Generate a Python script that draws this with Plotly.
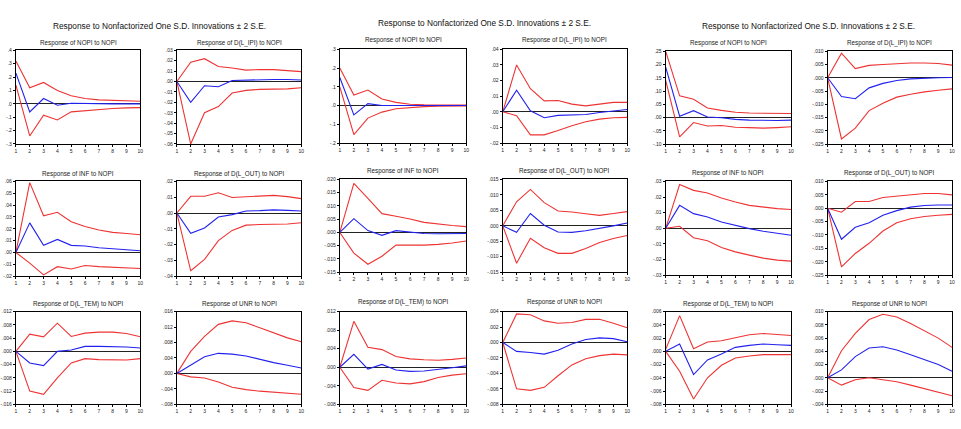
import plotly.graph_objects as go

W, H = 961, 429
periods = list(range(1, 11))

block_title = "Response to Nonfactorized One S.D. Innovations \u00b1 2 S.E."
panel_titles = ["Response of NOPI to NOPI", "Response of D(L_IPI) to NOPI",
                "Response of INF to NOPI", "Response of D(L_OUT) to NOPI",
                "Response of D(L_TEM) to NOPI", "Response of UNR to NOPI"]

# ---------------- Block 1 ----------------
b1_nopi_resp = [0.23, -0.06, 0.04, -0.01, 0.005, 0.002, 0.001, 0.0, 0.0, 0.0]
b1_nopi_up = [0.32, 0.12, 0.16, 0.10, 0.06, 0.04, 0.03, 0.025, 0.022, 0.02]
b1_nopi_lo = [0.14, -0.24, -0.085, -0.12, -0.06, -0.05, -0.04, -0.035, -0.03, -0.028]

b1_ipi_resp = [0.0, -0.02, -0.004, -0.005, 0.001, 0.0015, 0.002, 0.002, 0.002, 0.0015]
b1_ipi_up = [0.0, 0.0185, 0.022, 0.0145, 0.013, 0.011, 0.0115, 0.0115, 0.0105, 0.0095]
b1_ipi_lo = [0.0, -0.06, -0.03, -0.024, -0.011, -0.0085, -0.0075, -0.0073, -0.007, -0.006]

b1_inf_resp = [0.0, 0.025, 0.006, 0.011, 0.006, 0.0055, 0.004, 0.003, 0.002, 0.0015]
b1_inf_up = [0.0, 0.059, 0.031, 0.034, 0.026, 0.022, 0.019, 0.017, 0.016, 0.015]
b1_inf_lo = [0.0, -0.009, -0.019, -0.012, -0.014, -0.011, -0.012, -0.0125, -0.0135, -0.0135]

b1_out_resp = [0.0, -0.0128, -0.0095, -0.0025, -0.001, 0.0013, 0.0015, 0.002, 0.0017, 0.0013]
b1_out_up = [0.0, 0.0106, 0.0106, 0.0128, 0.0098, 0.0102, 0.0106, 0.0112, 0.0104, 0.0091]
b1_out_lo = [0.0, -0.0366, -0.0294, -0.0175, -0.011, -0.0077, -0.0073, -0.0072, -0.007, -0.0062]

b1_tem_resp = [0.0, -0.0035, -0.0043, 0.0, 0.0004, 0.0015, 0.0015, 0.0015, 0.0013, 0.001]
b1_tem_up = [0.0, 0.0052, 0.0044, 0.0085, 0.0045, 0.0055, 0.0058, 0.0058, 0.0054, 0.0044]
b1_tem_lo = [0.0, -0.012, -0.013, -0.008, -0.0035, -0.0022, -0.0025, -0.0026, -0.0026, -0.0022]

b1_unr_resp = [0.0, 0.0022, 0.0043, 0.0052, 0.005, 0.0045, 0.0036, 0.0028, 0.0021, 0.0014]
b1_unr_up = [0.0, 0.0057, 0.0096, 0.0127, 0.0136, 0.0131, 0.0118, 0.0104, 0.0092, 0.0082]
b1_unr_lo = [0.0, -0.0009, -0.0012, -0.0022, -0.0036, -0.0042, -0.0046, -0.0048, -0.0051, -0.0054]

# ---------------- Block 2 ----------------
b2_nopi_resp = [0.15, -0.05, 0.01, 0.0, 0.0, 0.0, 0.0, 0.0, 0.0, 0.0]
b2_nopi_up = [0.20, 0.056, 0.083, 0.035, 0.017, 0.007, 0.004, 0.003, 0.002, 0.002]
b2_nopi_lo = [0.10, -0.155, -0.067, -0.035, -0.017, -0.01, -0.006, -0.004, -0.003, -0.002]

b2_ipi_resp = [0.0, 0.0138, 0.0006, -0.0038, -0.0023, -0.002, -0.0017, -0.0005, 0.0006, 0.0015]
b2_ipi_up = [0.0, 0.03, 0.0148, 0.007, 0.0072, 0.0049, 0.0038, 0.0049, 0.006, 0.006]
b2_ipi_lo = [0.0, -0.0025, -0.0148, -0.0148, -0.012, -0.0089, -0.0064, -0.0047, -0.0038, -0.0036]

b2_inf_resp = [0.0, 0.0052, 0.0007, -0.0011, 0.0007, 0.0001, -0.0004, -0.0005, -0.0005, -0.0004]
b2_inf_up = [0.0, 0.0185, 0.0129, 0.0071, 0.0061, 0.0051, 0.0038, 0.0031, 0.0026, 0.0022]
b2_inf_lo = [0.0, -0.0078, -0.012, -0.009, -0.0048, -0.0048, -0.0048, -0.0045, -0.004, -0.0032]

b2_out_resp = [0.0, -0.0021, 0.004, 0.0002, -0.002, -0.0021, -0.0016, -0.0009, 0.0, 0.0009]
b2_out_up = [0.0, 0.0078, 0.0118, 0.0075, 0.0048, 0.0045, 0.0039, 0.0034, 0.004, 0.0046]
b2_out_lo = [0.0, -0.0121, -0.004, -0.0071, -0.0089, -0.0089, -0.0073, -0.0054, -0.0041, -0.0031]

b2_tem_resp = [0.0, 0.0028, -0.0004, 0.0006, -0.0006, -0.0009, -0.0008, -0.0005, -0.0001, 0.0003]
b2_tem_up = [0.0, 0.0099, 0.0043, 0.0038, 0.0023, 0.0018, 0.0016, 0.0015, 0.0017, 0.002]
b2_tem_lo = [0.0, -0.0044, -0.005, -0.0028, -0.0034, -0.0036, -0.0031, -0.0022, -0.0017, -0.0014]

b2_unr_resp = [0.0, -0.00115, -0.0013, -0.0015, -0.001, -0.0002, 0.0004, 0.0006, 0.0005, 0.0001]
b2_unr_up = [0.0, 0.0037, 0.0036, 0.0028, 0.0025, 0.0026, 0.003, 0.003, 0.0025, 0.0019]
b2_unr_lo = [0.0, -0.006, -0.0062, -0.0058, -0.0043, -0.0029, -0.0021, -0.0017, -0.0015, -0.0016]

# ---------------- Block 3 ----------------
b3_nopi_resp = [0.19, 0.005, 0.026, 0.002, -0.001, -0.007, -0.01, -0.011, -0.011, -0.01]
b3_nopi_up = [0.25, 0.082, 0.069, 0.036, 0.027, 0.02, 0.017, 0.016, 0.015, 0.015]
b3_nopi_lo = [0.14, -0.073, -0.019, -0.032, -0.03, -0.037, -0.038, -0.04, -0.038, -0.035]

b3_ipi_resp = [0.0, -0.0071, -0.0079, -0.0038, -0.0021, -0.001, -0.0004, -0.0001, 0.0, 0.0001]
b3_ipi_up = [0.0, 0.0093, 0.0035, 0.0047, 0.005, 0.0054, 0.0056, 0.0056, 0.0054, 0.0048]
b3_ipi_lo = [0.0, -0.0231, -0.019, -0.0124, -0.0096, -0.0073, -0.0062, -0.0053, -0.0047, -0.0042]

b3_inf_resp = [0.0, 0.0147, 0.0094, 0.0072, 0.004, 0.0017, -0.0002, -0.0019, -0.0034, -0.0045]
b3_inf_up = [0.0, 0.028, 0.0243, 0.0226, 0.0194, 0.0168, 0.0147, 0.0136, 0.0126, 0.012]
b3_inf_lo = [0.0, 0.0013, -0.006, -0.008, -0.0123, -0.0151, -0.0172, -0.0191, -0.0204, -0.021]

b3_out_resp = [0.0, -0.0116, -0.0071, -0.0054, -0.0026, -0.0009, 0.0004, 0.001, 0.0012, 0.0012]
b3_out_up = [0.0, -0.0015, 0.0025, 0.0025, 0.004, 0.0045, 0.0052, 0.0055, 0.0055, 0.005]
b3_out_lo = [0.0, -0.0219, -0.0169, -0.0131, -0.0085, -0.0054, -0.0039, -0.0031, -0.0026, -0.0023]

b3_tem_resp = [0.0, 0.0011, -0.0035, -0.0013, -0.0004, 0.0006, 0.0009, 0.0011, 0.001, 0.0009]
b3_tem_up = [0.0003, 0.0054, 0.0004, 0.0014, 0.0016, 0.0021, 0.0025, 0.0027, 0.0026, 0.0024]
b3_tem_lo = [0.0, -0.003, -0.0072, -0.004, -0.0021, -0.001, -0.0007, -0.0005, -0.0005, -0.0005]

b3_unr_resp = [0.0, 0.0012, 0.0032, 0.0045, 0.0047, 0.0042, 0.0035, 0.0027, 0.002, 0.001]
b3_unr_up = [0.0, 0.0041, 0.0067, 0.0088, 0.0096, 0.0092, 0.0082, 0.0071, 0.006, 0.0046]
b3_unr_lo = [0.0, -0.0011, -0.0003, 0.0, -0.0003, -0.0006, -0.0011, -0.0016, -0.0021, -0.0027]

# axis settings per panel: (min, max, step, decimals)
b1_axes = [(-0.3, 0.4, 0.1, 1), (-0.06, 0.03, 0.01, 2), (-0.02, 0.06, 0.01, 2),
           (-0.04, 0.02, 0.01, 2), (-0.016, 0.012, 0.004, 3), (-0.008, 0.016, 0.004, 3)]
b2_axes = [(-0.2, 0.3, 0.1, 1), (-0.02, 0.04, 0.01, 2), (-0.015, 0.020, 0.005, 3),
           (-0.015, 0.015, 0.005, 3), (-0.008, 0.012, 0.004, 3), (-0.008, 0.004, 0.002, 3)]
b3_axes = [(-0.10, 0.25, 0.05, 2), (-0.025, 0.010, 0.005, 3), (-0.03, 0.03, 0.01, 2),
           (-0.025, 0.010, 0.005, 3), (-0.008, 0.006, 0.002, 3), (-0.004, 0.010, 0.002, 3)]

blocks = [
    dict(series=[(b1_nopi_resp, b1_nopi_up, b1_nopi_lo), (b1_ipi_resp, b1_ipi_up, b1_ipi_lo),
                 (b1_inf_resp, b1_inf_up, b1_inf_lo), (b1_out_resp, b1_out_up, b1_out_lo),
                 (b1_tem_resp, b1_tem_up, b1_tem_lo), (b1_unr_resp, b1_unr_up, b1_unr_lo)],
         axes=b1_axes, cols=[(7, 133), (170, 296)], title_x=152, title_y=23,
         rows=[(48, 143), (181, 277), (313, 407)], sub_y=[41, 173, 305]),
    dict(series=[(b2_nopi_resp, b2_nopi_up, b2_nopi_lo), (b2_ipi_resp, b2_ipi_up, b2_ipi_lo),
                 (b2_inf_resp, b2_inf_up, b2_inf_lo), (b2_out_resp, b2_out_up, b2_out_lo),
                 (b2_tem_resp, b2_tem_up, b2_tem_lo), (b2_unr_resp, b2_unr_up, b2_unr_lo)],
         axes=b2_axes, cols=[(335, 463), (500, 626)], title_x=482, title_y=20,
         rows=[(47, 142), (179, 273), (313, 407)], sub_y=[38, 170, 303]),
    dict(series=[(b3_nopi_resp, b3_nopi_up, b3_nopi_lo), (b3_ipi_resp, b3_ipi_up, b3_ipi_lo),
                 (b3_inf_resp, b3_inf_up, b3_inf_lo), (b3_out_resp, b3_out_up, b3_out_lo),
                 (b3_tem_resp, b3_tem_up, b3_tem_lo), (b3_unr_resp, b3_unr_up, b3_unr_lo)],
         axes=b3_axes, cols=[(665, 792), (829, 955)], title_x=810, title_y=23,
         rows=[(49, 143), (181, 276), (313, 407)], sub_y=[41, 172, 305]),
]

BLUE = "#2222ee"
RED = "#ee3333"
FONT = "Liberation Sans, Arial, sans-serif"


def fmt(v, d):
    s = f"{v:.{d}f}"
    if s.startswith("-0."):
        s = "-" + s[2:]
    elif s.startswith("0."):
        s = s[1:]
    if float(s) == 0:
        s = "." + "0" * d
    return s


fig = go.Figure()
layout = dict(width=W, height=H, margin=dict(l=0, r=0, t=0, b=0), autosize=False,
              plot_bgcolor="white", paper_bgcolor="white", showlegend=False,
              font=dict(family=FONT, color="black"))
annotations = []
idx = 0
for b in blocks:
    annotations.append(dict(text=block_title, x=b["title_x"] / W, y=1 - b["title_y"] / H,
                            xref="paper", yref="paper", showarrow=False,
                            xanchor="center", yanchor="middle",
                            font=dict(size=8.3, family=FONT, color="#111")))
    for p in range(6):
        r, c = divmod(p, 2)
        idx += 1
        xa = "x" if idx == 1 else f"x{idx}"
        ya = "y" if idx == 1 else f"y{idx}"
        resp, up, lo = b["series"][p]
        for ys, col in ((up, RED), (lo, RED), (resp, BLUE)):
            fig.add_trace(go.Scatter(x=periods, y=ys, mode="lines", xaxis=xa, yaxis=ya,
                                     line=dict(color=col, width=1.1), hoverinfo="skip"))
        lo_v, hi_v, step, d = b["axes"][p]
        n = int(round((hi_v - lo_v) / step))
        tv = [round(lo_v + i * step, 6) for i in range(n + 1)]
        x0, x1 = b["cols"][c]
        y0, y1 = b["rows"][r]
        common = dict(showline=True, linecolor="black", linewidth=1.2, mirror=True,
                      showgrid=False, ticks="outside", ticklen=2, tickwidth=0.8,
                      tickcolor="black", tickfont=dict(size=5, family=FONT, color="#222"))
        layout["xaxis" if idx == 1 else f"xaxis{idx}"] = dict(
            domain=[x0 / W, x1 / W], range=[1, 10], anchor=ya, zeroline=False,
            tickvals=periods, ticktext=[str(v) for v in periods], ticklabelstandoff=0, **common)
        layout["yaxis" if idx == 1 else f"yaxis{idx}"] = dict(
            domain=[1 - y1 / H, 1 - y0 / H], range=[lo_v, hi_v], anchor=xa,
            zeroline=True, zerolinecolor="#222", zerolinewidth=1,
            tickvals=tv, ticktext=[fmt(v, d) for v in tv], ticklabelstandoff=0, **common)
        annotations.append(dict(text=panel_titles[p], x=(x0 + x1) / 2 / W,
                                y=1 - b["sub_y"][r] / H, xref="paper", yref="paper",
                                showarrow=False, xanchor="center", yanchor="middle",
                                font=dict(size=6.3, family=FONT, color="#222")))
layout["annotations"] = annotations
fig.update_layout(**layout)
fig.write_html("out.html")
